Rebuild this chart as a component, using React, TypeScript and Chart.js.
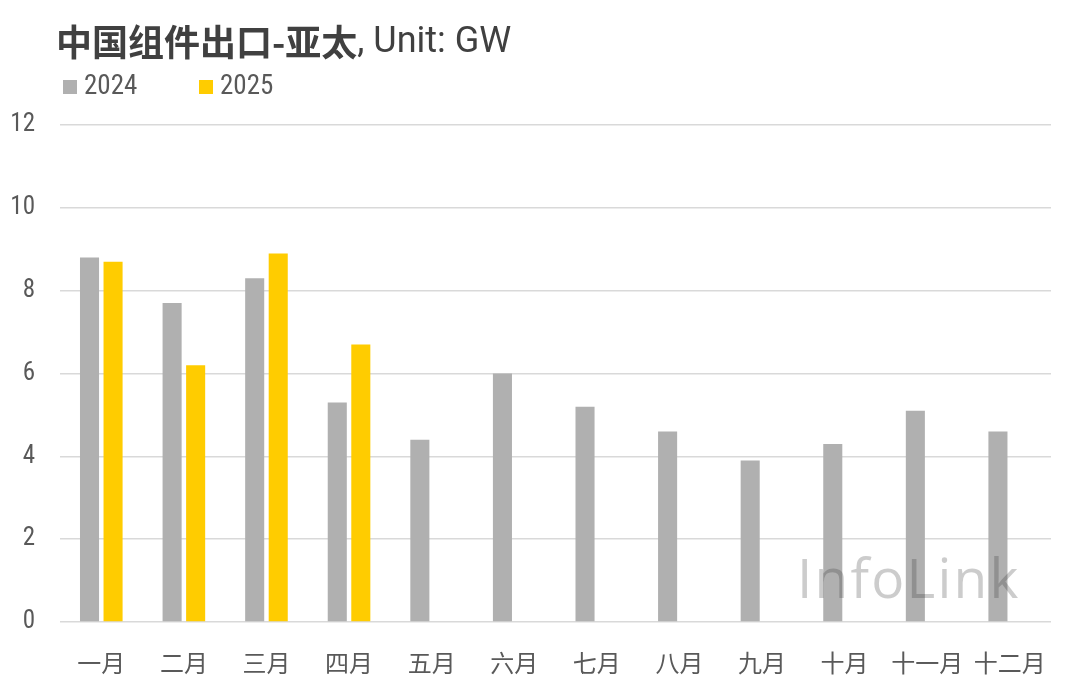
import React, { useEffect, useRef } from "react";
import { Chart, registerables } from "chart.js";

Chart.register(...registerables);

const categories = ["一月", "二月", "三月", "四月", "五月", "六月", "七月", "八月", "九月", "十月", "十一月", "十二月"];
const series2024 = [8.8, 7.7, 8.3, 5.3, 4.4, 6.0, 5.2, 4.6, 3.9, 4.3, 5.1, 4.6];
const series2025 = [8.7, 6.2, 8.9, 6.7, null, null, null, null, null, null, null, null];
const seriesLabels = ["2024", "2025"];
const yTicks = [0, 2, 4, 6, 8, 10, 12];
const titleMain = "中国组件出口-亚太";
const titleUnit = ", Unit: GW";
const watermark = "InfoLink";

const NUM_FONT = "'Liberation Sans Narrow', 'Roboto Condensed', Roboto, sans-serif";
const CJK_FONT = "'Noto Sans CJK SC', sans-serif";

const overlayPlugin = {
  id: "overlay",
  afterDatasetsDraw(chart: any) {
    const ctx = chart.ctx;
    ctx.save();
    ctx.font = `55px 'Open Sans', 'Noto Sans', sans-serif`;
    try { (ctx as any).letterSpacing = "2.2px"; } catch (e) {}
    ctx.fillStyle = "rgba(40,40,40,0.24)";
    ctx.textBaseline = "alphabetic";
    ctx.textAlign = "left";
    ctx.fillText(watermark, 797, 598);
    try { (ctx as any).letterSpacing = "0px"; } catch (e) {}
    ctx.restore();
  },
  afterDraw(chart: any) {
    const ctx = chart.ctx;
    ctx.save();
    ctx.textBaseline = "middle";
    ctx.textAlign = "left";
    ctx.fillStyle = "#404040";
    ctx.font = `bold 36px ${CJK_FONT}`;
    ctx.fillText(titleMain, 56, 42);
    const w = ctx.measureText(titleMain).width;
    ctx.font = `36px Roboto, sans-serif`;
    ctx.fillText(titleUnit, 56 + w, 43);
    const ds = chart.data.datasets;
    const xs = [63, 199];
    ds.forEach((d: any, i: number) => {
      ctx.fillStyle = d.backgroundColor;
      ctx.fillRect(xs[i], 80, 14, 14);
      ctx.fillStyle = "#595959";
      ctx.font = `27px ${NUM_FONT}`;
      ctx.fillText(d.label, xs[i] + 21, 87);
    });
    ctx.restore();
  },
};

export default function App() {
  const ref = useRef<HTMLCanvasElement | null>(null);
  useEffect(() => {
    if (!ref.current) return;
    const chart = new Chart(ref.current, {
      type: "bar",
      data: {
        labels: categories,
        datasets: [
          { label: seriesLabels[0], data: series2024, backgroundColor: "#B0B0B0", categoryPercentage: 0.57, barPercentage: 0.81 },
          { label: seriesLabels[1], data: series2025 as any, backgroundColor: "#FFCC00", categoryPercentage: 0.57, barPercentage: 0.81 },
        ],
      },
      options: {
        animation: false,
        responsive: true,
        maintainAspectRatio: false,
        layout: { padding: { top: 125, right: 29, left: 0, bottom: 0 } },
        plugins: {
          legend: { display: false },
          title: { display: false },
          tooltip: { enabled: false },
        },
        scales: {
          x: {
            afterFit(scale: any) { scale.height = 68; },
            grid: { display: false, drawTicks: false },
            border: { display: false },
            ticks: {
              color: "#595959",
              font: { family: CJK_FONT, size: 24 },
              padding: 26,
              maxRotation: 0,
              autoSkip: false,
            },
          },
          y: {
            min: 0,
            max: 12,
            afterFit(scale: any) { scale.width = 60; },
            afterBuildTicks(scale: any) { scale.ticks = yTicks.map((v) => ({ value: v })); },
            grid: { color: "#D9D9D9", lineWidth: 1.5, drawTicks: false },
            border: { display: false },
            ticks: {
              color: "#595959",
              font: { family: NUM_FONT, size: 25 },
              padding: 25,
            },
          },
        },
      },
      plugins: [overlayPlugin],
    });
    return () => chart.destroy();
  }, []);
  return (
    <div style={{ position: "fixed", left: 0, top: 0, width: 1080, height: 690, background: "#fff" }}>
      <canvas ref={ref} />
    </div>
  );
}
